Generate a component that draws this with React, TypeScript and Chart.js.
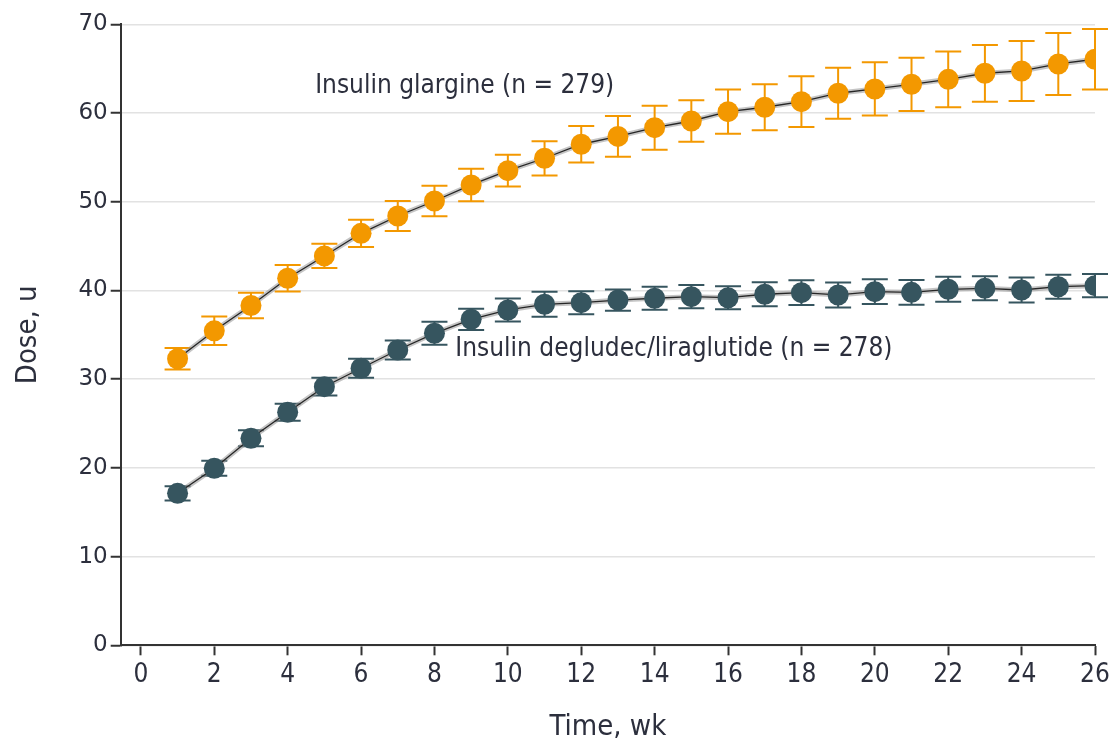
import { useEffect, useRef } from "react";
import { Chart, registerables } from "chart.js";

Chart.register(...registerables);

// Study weeks
const weeks = [1, 2, 3, 4, 5, 6, 7, 8, 9, 10, 11, 12, 13, 14, 15, 16, 17, 18, 19, 20, 21, 22, 23, 24, 25, 26];

// Insulin glargine mean dose (u) and error half-widths
const glargineDose = [32.3, 35.45, 38.3, 41.37, 43.89, 46.44, 48.39, 50.08, 51.89, 53.5, 54.9, 56.48, 57.36, 58.35, 59.1, 60.15, 60.65, 61.28, 62.23, 62.71, 63.24, 63.8, 64.48, 64.74, 65.53, 66.06];
const glargineErr = [1.2, 1.6, 1.43, 1.5, 1.37, 1.54, 1.7, 1.73, 1.84, 1.79, 1.93, 2.05, 2.3, 2.48, 2.35, 2.5, 2.6, 2.87, 2.87, 3.0, 3.0, 3.14, 3.2, 3.38, 3.5, 3.4];

// Insulin degludec/liraglutide mean dose (u) and error half-widths
const comboDose = [17.13, 19.95, 23.33, 26.27, 29.15, 31.23, 33.29, 35.17, 36.75, 37.8, 38.44, 38.62, 38.92, 39.12, 39.3, 39.18, 39.57, 39.75, 39.49, 39.86, 39.79, 40.13, 40.24, 40.05, 40.42, 40.54];
const comboErr = [0.8, 0.85, 0.9, 0.95, 1.0, 1.07, 1.08, 1.3, 1.2, 1.3, 1.4, 1.3, 1.2, 1.3, 1.3, 1.3, 1.35, 1.4, 1.4, 1.4, 1.4, 1.4, 1.35, 1.4, 1.35, 1.3];

// Axis ticks
const xTickValues = [0, 2, 4, 6, 8, 10, 12, 14, 16, 18, 20, 22, 24, 26];
const yTickValues = [0, 10, 20, 30, 40, 50, 60, 70];

// Series labels
const glargineLabel = "Insulin glargine (n = 279)";
const comboLabel = "Insulin degludec/liraglutide (n = 278)";

const ORANGE = "#f39800";
const SLATE = "#36555f";
const TEXT = "#2c2f3d";
const NARROW = "'DejaVu Sans Condensed', 'Liberation Sans Narrow', sans-serif";

const toPoints = (vals: number[]) => weeks.map((w, i) => ({ x: w, y: vals[i] }));

const errorBarPlugin = {
  id: "errorBars",
  beforeDatasetsDraw(chart: any) {
    const { ctx, scales } = chart;
    const x = scales.x;
    const y = scales.y;
    const series = [
      { dose: glargineDose, err: glargineErr, color: ORANGE },
      { dose: comboDose, err: comboErr, color: SLATE },
    ];
    const cap = 13;
    ctx.save();
    ctx.lineWidth = 2;
    for (const s of series) {
      ctx.strokeStyle = s.color;
      weeks.forEach((w, i) => {
        const px = x.getPixelForValue(w);
        const top = y.getPixelForValue(s.dose[i] + s.err[i]);
        const bot = y.getPixelForValue(s.dose[i] - s.err[i]);
        ctx.beginPath();
        ctx.moveTo(px, top);
        ctx.lineTo(px, bot);
        ctx.moveTo(px - cap, top);
        ctx.lineTo(px + cap, top);
        ctx.moveTo(px - cap, bot);
        ctx.lineTo(px + cap, bot);
        ctx.stroke();
      });
    }
    ctx.restore();
  },
};

const seriesLabelPlugin = {
  id: "seriesLabels",
  afterDatasetsDraw(chart: any) {
    const { ctx, scales } = chart;
    const x = scales.x;
    const y = scales.y;
    ctx.save();
    ctx.font = `26px ${NARROW}`;
    ctx.fillStyle = TEXT;
    ctx.textAlign = "left";
    ctx.textBaseline = "middle";
    ctx.fillText(glargineLabel, x.getPixelForValue(4.75), y.getPixelForValue(63.0));
    ctx.fillText(comboLabel, x.getPixelForValue(8.57), y.getPixelForValue(33.4));
    ctx.restore();
  },
};

export default function App() {
  const canvasRef = useRef<HTMLCanvasElement | null>(null);

  useEffect(() => {
    document.body.style.margin = "0";
    const canvas = canvasRef.current;
    if (!canvas) return;

    const halo = "rgba(150,150,150,0.55)";
    const chart = new Chart(canvas, {
      type: "line",
      data: {
        datasets: [
          {
            label: glargineLabel,
            data: toPoints(glargineDose),
            borderColor: "#262626",
            borderWidth: 1.3,
            pointRadius: 10.5,
            pointBackgroundColor: ORANGE,
            pointBorderWidth: 0,
            order: 1,
          },
          {
            label: comboLabel,
            data: toPoints(comboDose),
            borderColor: "#262626",
            borderWidth: 1.3,
            pointRadius: 10.5,
            pointBackgroundColor: SLATE,
            pointBorderWidth: 0,
            order: 1,
          },
          {
            label: "glargine trend",
            data: toPoints(glargineDose),
            borderColor: halo,
            borderWidth: 5,
            pointRadius: 0,
            order: 2,
          },
          {
            label: "combo trend",
            data: toPoints(comboDose),
            borderColor: halo,
            borderWidth: 5,
            pointRadius: 0,
            order: 2,
          },
        ],
      },
      options: {
        responsive: false,
        animation: false,
        events: [],
        layout: { padding: { left: 0, right: 21, top: 24.3, bottom: 0 } },
        plugins: {
          legend: { display: false },
          tooltip: { enabled: false },
        },
        scales: {
          x: {
            type: "linear",
            min: -0.55,
            max: 26,
            afterBuildTicks: (axis: any) => {
              axis.ticks = xTickValues.map((v) => ({ value: v }));
            },
            afterFit: (axis: any) => {
              axis.height = 99.7;
            },
            border: { display: true, color: "#333", width: 2 },
            grid: {
              drawOnChartArea: false,
              drawTicks: true,
              tickLength: 10,
              tickColor: "#333",
              tickWidth: 2,
            },
            ticks: {
              color: TEXT,
              padding: 4,
              maxRotation: 0,
              autoSkip: false,
              font: { family: NARROW, size: 26 },
            },
            title: {
              display: true,
              text: "Time, wk",
              color: TEXT,
              padding: { top: 3, bottom: 0 },
              font: { family: NARROW, size: 29 },
            },
          },
          y: {
            type: "linear",
            min: 0,
            max: 70,
            afterBuildTicks: (axis: any) => {
              axis.ticks = yTickValues.map((v) => ({ value: v }));
            },
            afterFit: (axis: any) => {
              axis.width = 120.7;
            },
            border: { display: true, color: "#333", width: 2 },
            grid: {
              color: "#e2e2e2",
              lineWidth: 1.5,
              drawTicks: true,
              tickLength: 10,
              tickColor: "#333",
              tickWidth: 2,
            },
            ticks: {
              color: TEXT,
              padding: 3,
              font: { family: "'DejaVu Sans', sans-serif", size: 23 },
            },
            title: {
              display: true,
              text: "Dose, u",
              color: TEXT,
              padding: { top: 10.6, bottom: 0 },
              font: { family: NARROW, size: 29 },
            },
          },
        },
      },
      plugins: [errorBarPlugin, seriesLabelPlugin],
    } as any);

    return () => chart.destroy();
  }, []);

  return (
    <div style={{ width: 1116, height: 745 }}>
      <canvas ref={canvasRef} width={1116} height={745} style={{ display: "block" }} />
    </div>
  );
}
